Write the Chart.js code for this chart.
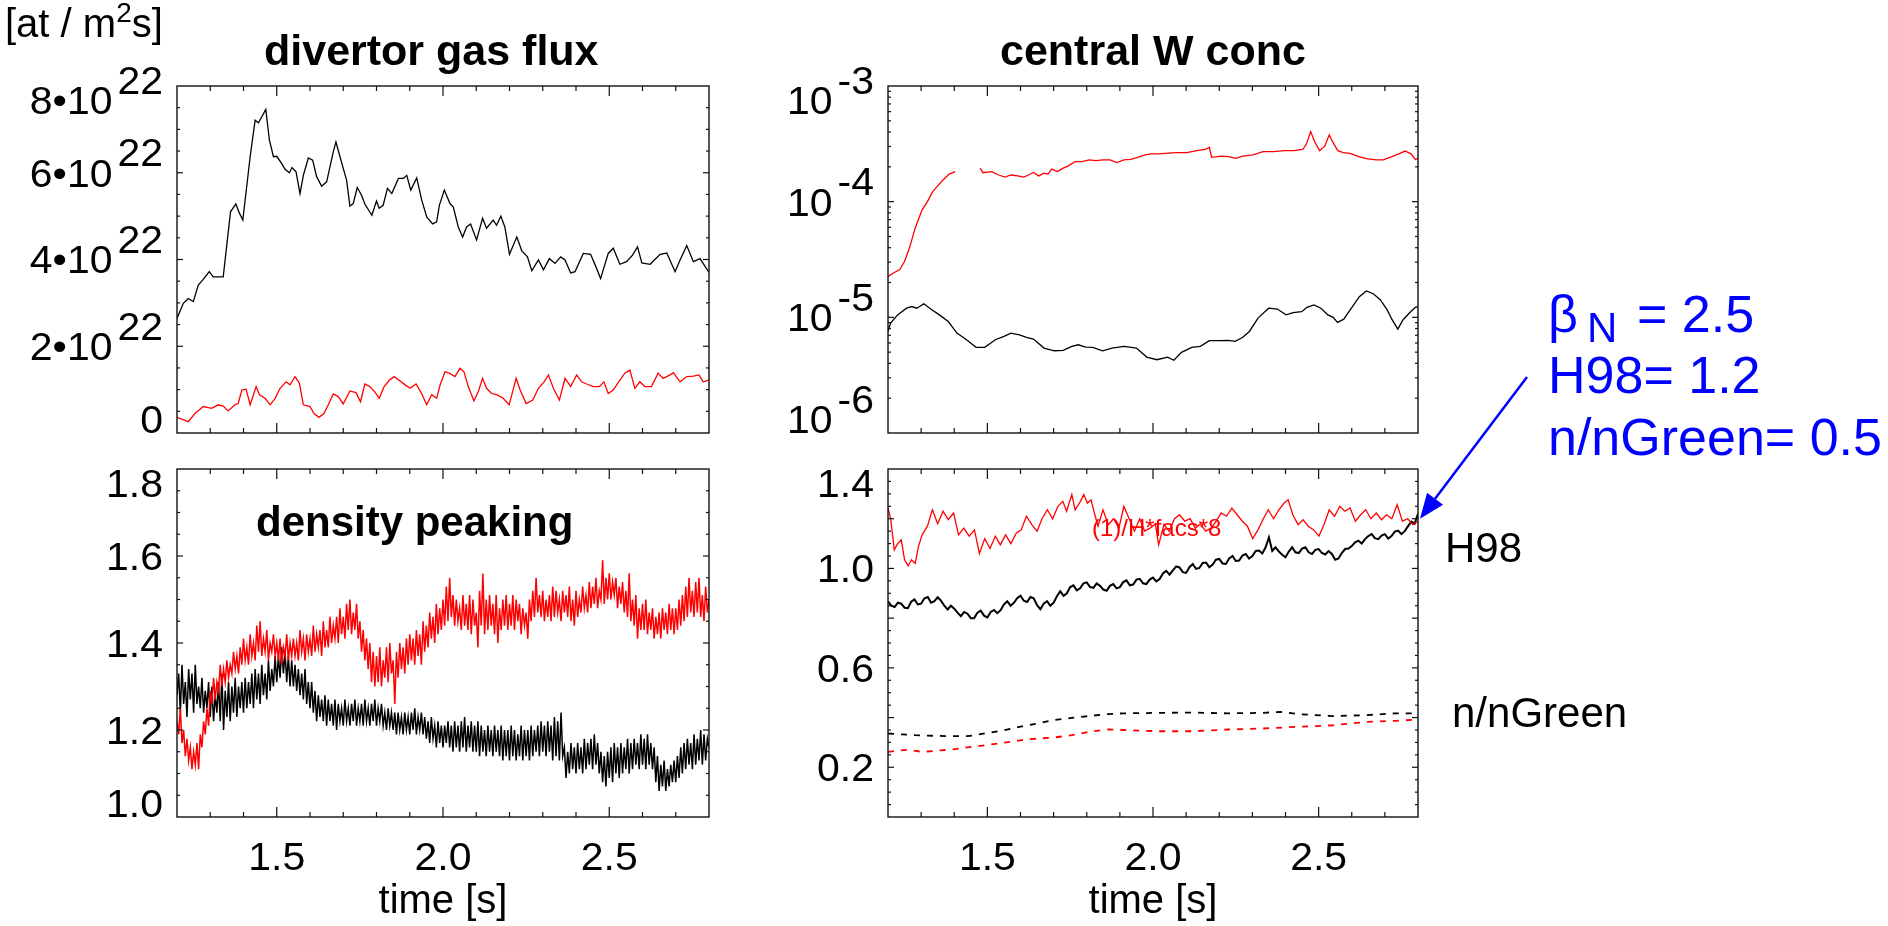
<!DOCTYPE html>
<html>
<head>
<meta charset="utf-8">
<script src="https://cdn.jsdelivr.net/npm/chart.js"></script>
<style>
html,body{margin:0;padding:0;background:#fff;width:1888px;height:926px;overflow:hidden;}
canvas,svg{position:absolute;left:0;top:0;}
</style>
</head>
<body>
<canvas id="cTL" width="1888" height="926"></canvas>
<canvas id="cTR" width="1888" height="926"></canvas>
<canvas id="cBL" width="1888" height="926"></canvas>
<canvas id="cBR" width="1888" height="926"></canvas>
<svg width="1888" height="926" font-family="'Liberation Sans', Arial, Helvetica, sans-serif">
  <text x="5" y="37" font-size="40">[at / m<tspan dy="-15" font-size="28">2</tspan><tspan dy="15" font-size="40">s]</tspan></text>
  <text x="264" y="65" font-size="43" font-weight="bold">divertor gas flux</text>
  <text x="1000" y="65" font-size="43" font-weight="bold">central W conc</text>
  <text x="256" y="536" font-size="42" font-weight="bold">density peaking</text>
  <text x="443" y="913" font-size="40" text-anchor="middle">time [s]</text>
  <text x="1153" y="913" font-size="40" text-anchor="middle">time [s]</text>
  <text x="1445" y="562" font-size="42">H98</text>
  <text x="1452" y="727" font-size="42">n/nGreen</text>
  <text x="1092" y="536" font-size="24" fill="#ff0000">(1)/H*facs*8</text>
  <g fill="#0000ff">
    <text x="1548" y="332" font-size="52">β</text>
    <text x="1587" y="342" font-size="42">N</text>
    <text x="1637" y="332" font-size="52">= 2.5</text>
    <text x="1548" y="393" font-size="52">H98= 1.2</text>
    <text x="1548" y="455" font-size="52">n/nGreen= 0.5</text>
  </g>
</svg>
<script>
// ---------------- data ----------------
// time axis ticks
const timeMajor = [1.5, 2.0, 2.5];
const timeMinor = [1.3, 1.4, 1.6, 1.7, 1.8, 1.9, 2.1, 2.2, 2.3, 2.4, 2.6, 2.7];
const timeLabels = ['1.5', '2.0', '2.5'];

// divertor gas flux [1e22 at / m^2 s]  -> [time, value]
const fluxBlack = [[1.200,2.64],[1.219,2.99],[1.234,3.10],[1.249,3.03],[1.264,3.41],[1.279,3.54],[1.297,3.72],[1.309,3.60],[1.324,3.60],[1.339,3.60],[1.361,5.10],[1.377,5.28],[1.387,5.08],[1.398,4.91],[1.420,6.37],[1.435,7.21],[1.445,7.15],[1.455,7.29],[1.467,7.46],[1.478,6.75],[1.490,6.37],[1.500,6.38],[1.515,6.21],[1.525,6.08],[1.538,6.00],[1.546,6.12],[1.558,6.02],[1.570,5.52],[1.580,5.94],[1.595,6.34],[1.608,6.29],[1.620,5.91],[1.635,5.69],[1.650,5.79],[1.670,6.48],[1.678,6.71],[1.700,6.10],[1.710,5.83],[1.720,5.23],[1.730,5.29],[1.742,5.66],[1.755,5.48],[1.765,5.28],[1.786,5.02],[1.800,5.35],[1.808,5.18],[1.820,5.25],[1.833,5.64],[1.846,5.52],[1.866,5.87],[1.881,5.87],[1.891,5.94],[1.903,5.60],[1.921,5.88],[1.936,5.37],[1.951,4.98],[1.969,4.82],[1.981,4.87],[1.989,5.25],[2.004,5.60],[2.021,5.29],[2.031,5.21],[2.046,4.75],[2.059,4.52],[2.071,4.75],[2.083,4.82],[2.101,4.45],[2.119,4.95],[2.131,4.72],[2.151,4.91],[2.161,4.79],[2.174,5.00],[2.186,4.75],[2.200,4.12],[2.222,4.52],[2.237,4.20],[2.254,4.06],[2.267,3.74],[2.287,3.99],[2.302,3.76],[2.320,4.02],[2.337,3.91],[2.354,4.06],[2.367,3.99],[2.384,3.69],[2.397,3.72],[2.422,4.14],[2.444,4.12],[2.460,3.83],[2.474,3.56],[2.497,4.14],[2.512,4.26],[2.532,3.89],[2.552,3.95],[2.570,4.10],[2.585,4.29],[2.598,3.92],[2.623,3.89],[2.653,4.12],[2.673,4.15],[2.698,3.72],[2.713,3.99],[2.733,4.32],[2.753,3.95],[2.773,4.02],[2.800,3.70]];
const fluxRed = [[1.200,0.36],[1.234,0.26],[1.254,0.45],[1.279,0.61],[1.304,0.57],[1.324,0.65],[1.339,0.62],[1.354,0.51],[1.374,0.65],[1.384,0.68],[1.395,0.99],[1.408,1.01],[1.420,0.65],[1.438,1.07],[1.448,0.88],[1.465,0.80],[1.480,0.65],[1.495,0.80],[1.510,1.03],[1.528,1.18],[1.540,1.11],[1.555,1.30],[1.568,1.15],[1.580,0.65],[1.600,0.61],[1.612,0.45],[1.627,0.36],[1.642,0.45],[1.655,0.65],[1.670,0.90],[1.685,0.84],[1.700,0.67],[1.720,0.97],[1.738,0.93],[1.752,0.72],[1.765,1.13],[1.780,1.07],[1.795,0.95],[1.808,0.80],[1.823,1.07],[1.839,1.22],[1.853,1.30],[1.871,1.20],[1.886,1.11],[1.901,1.03],[1.919,1.13],[1.933,0.95],[1.951,0.65],[1.966,0.88],[1.981,0.80],[1.991,1.10],[2.006,1.41],[2.019,1.38],[2.036,1.30],[2.051,1.49],[2.063,1.41],[2.076,1.07],[2.093,0.74],[2.106,0.95],[2.119,1.26],[2.131,1.03],[2.146,0.91],[2.163,0.88],[2.181,0.80],[2.199,0.65],[2.220,1.26],[2.232,0.99],[2.250,0.68],[2.270,0.76],[2.287,1.03],[2.304,1.18],[2.317,1.34],[2.332,1.03],[2.350,0.76],[2.367,1.26],[2.384,1.07],[2.402,1.34],[2.417,1.18],[2.432,1.13],[2.452,1.07],[2.470,1.07],[2.484,1.18],[2.497,0.91],[2.512,0.99],[2.532,1.22],[2.547,1.38],[2.562,1.45],[2.577,1.03],[2.592,1.18],[2.607,1.07],[2.627,1.07],[2.647,1.38],[2.662,1.26],[2.683,1.34],[2.693,1.39],[2.713,1.18],[2.733,1.30],[2.753,1.31],[2.770,1.34],[2.782,1.18],[2.800,1.22]];
const fluxMajor = [2, 4, 6];
const fluxMinor = [0.5, 1, 1.5, 2.5, 3, 3.5, 4.5, 5, 5.5, 6.5, 7, 7.5];
const fluxLabels = [{v:0,b:'0'},{v:2,b:'2•10',e:'22'},{v:4,b:'4•10',e:'22'},{v:6,b:'6•10',e:'22'},{v:8,b:'8•10',e:'22'}];

// central W concentration -> [time, value]
const wRed = [[1.200,2.25e-5],[1.219,2.44e-5],[1.235,2.58e-5],[1.250,3.04e-5],[1.266,4.09e-5],[1.282,5.90e-5],[1.303,8.49e-5],[1.319,1.00e-4],[1.335,1.22e-4],[1.350,1.37e-4],[1.366,1.54e-4],[1.385,1.73e-4],[1.403,1.82e-4],[1.440,null],[1.478,1.95e-4],[1.487,1.78e-4],[1.513,1.82e-4],[1.534,1.70e-4],[1.553,1.63e-4],[1.571,1.70e-4],[1.592,1.67e-4],[1.610,1.63e-4],[1.624,1.70e-4],[1.639,1.79e-4],[1.655,1.67e-4],[1.671,1.76e-4],[1.683,1.73e-4],[1.694,1.91e-4],[1.711,1.82e-4],[1.729,1.95e-4],[1.744,2.04e-4],[1.765,2.22e-4],[1.786,2.22e-4],[1.807,2.30e-4],[1.828,2.26e-4],[1.849,2.30e-4],[1.870,2.30e-4],[1.891,2.18e-4],[1.912,2.30e-4],[1.933,2.32e-4],[1.954,2.42e-4],[1.975,2.54e-4],[1.996,2.59e-4],[2.017,2.59e-4],[2.038,2.62e-4],[2.070,2.65e-4],[2.102,2.65e-4],[2.133,2.76e-4],[2.160,2.84e-4],[2.170,2.95e-4],[2.177,2.42e-4],[2.207,2.48e-4],[2.228,2.45e-4],[2.251,2.37e-4],[2.270,2.48e-4],[2.302,2.54e-4],[2.332,2.71e-4],[2.364,2.71e-4],[2.396,2.76e-4],[2.427,2.76e-4],[2.453,2.84e-4],[2.464,3.20e-4],[2.476,4.04e-4],[2.488,3.30e-4],[2.503,2.76e-4],[2.519,3.03e-4],[2.532,3.78e-4],[2.542,3.30e-4],[2.558,2.76e-4],[2.574,2.65e-4],[2.595,2.62e-4],[2.621,2.45e-4],[2.648,2.34e-4],[2.674,2.30e-4],[2.695,2.30e-4],[2.721,2.45e-4],[2.742,2.59e-4],[2.761,2.74e-4],[2.779,2.59e-4],[2.792,2.32e-4],[2.800,2.37e-4]];
const wBlack = [[1.200,7.55e-6],[1.208,8.91e-6],[1.229,1.05e-5],[1.256,1.20e-5],[1.272,1.24e-5],[1.287,1.20e-5],[1.308,1.31e-5],[1.329,1.18e-5],[1.355,1.05e-5],[1.382,9.20e-6],[1.408,7.31e-6],[1.434,6.49e-6],[1.466,5.50e-6],[1.492,5.50e-6],[1.524,6.40e-6],[1.550,6.84e-6],[1.571,7.31e-6],[1.597,7.06e-6],[1.618,6.70e-6],[1.639,6.49e-6],[1.671,5.42e-6],[1.702,5.14e-6],[1.729,5.18e-6],[1.755,5.61e-6],[1.774,5.79e-6],[1.797,5.53e-6],[1.818,5.50e-6],[1.848,5.14e-6],[1.876,5.42e-6],[1.913,5.61e-6],[1.950,5.42e-6],[1.981,4.53e-6],[2.012,4.30e-6],[2.044,4.53e-6],[2.063,4.25e-6],[2.086,4.98e-6],[2.117,5.50e-6],[2.143,5.61e-6],[2.170,6.28e-6],[2.201,6.28e-6],[2.227,6.32e-6],[2.248,6.19e-6],[2.270,6.70e-6],[2.291,7.55e-6],[2.317,9.84e-6],[2.349,1.20e-5],[2.375,1.18e-5],[2.402,1.05e-5],[2.423,1.10e-5],[2.449,1.12e-5],[2.465,1.22e-5],[2.486,1.28e-5],[2.507,1.20e-5],[2.528,1.05e-5],[2.544,1.00e-5],[2.557,9.04e-6],[2.576,9.64e-6],[2.602,1.24e-5],[2.623,1.51e-5],[2.644,1.69e-5],[2.665,1.60e-5],[2.686,1.42e-5],[2.707,1.16e-5],[2.721,9.64e-6],[2.739,7.91e-6],[2.755,9.53e-6],[2.774,1.09e-5],[2.792,1.22e-5],[2.800,1.24e-5]];
const wMajor = [1e-5, 1e-4];
const wMinor = [2e-6,3e-6,4e-6,5e-6,6e-6,7e-6,8e-6,9e-6,2e-5,3e-5,4e-5,5e-5,6e-5,7e-5,8e-5,9e-5,2e-4,3e-4,4e-4,5e-4,6e-4,7e-4,8e-4,9e-4];
const wLabels = [{v:1e-6,b:'10',e:'-6'},{v:1e-5,b:'10',e:'-5'},{v:1e-4,b:'10',e:'-4'},{v:1e-3,b:'10',e:'-3'}];

// density peaking: sample times (5 ms) and values
const t005 = [
1.200,1.205,1.210,1.215,1.220,1.225,1.230,1.235,1.240,1.245,
1.250,1.255,1.260,1.265,1.270,1.275,1.280,1.285,1.290,1.295,
1.300,1.305,1.310,1.315,1.320,1.325,1.330,1.335,1.340,1.345,
1.350,1.355,1.360,1.365,1.370,1.375,1.380,1.385,1.390,1.395,
1.400,1.405,1.410,1.415,1.420,1.425,1.430,1.435,1.440,1.445,
1.450,1.455,1.460,1.465,1.470,1.475,1.480,1.485,1.490,1.495,
1.500,1.505,1.510,1.515,1.520,1.525,1.530,1.535,1.540,1.545,
1.550,1.555,1.560,1.565,1.570,1.575,1.580,1.585,1.590,1.595,
1.600,1.605,1.610,1.615,1.620,1.625,1.630,1.635,1.640,1.645,
1.650,1.655,1.660,1.665,1.670,1.675,1.680,1.685,1.690,1.695,
1.700,1.705,1.710,1.715,1.720,1.725,1.730,1.735,1.740,1.745,
1.750,1.755,1.760,1.765,1.770,1.775,1.780,1.785,1.790,1.795,
1.800,1.805,1.810,1.815,1.820,1.825,1.830,1.835,1.840,1.845,
1.850,1.855,1.860,1.865,1.870,1.875,1.880,1.885,1.890,1.895,
1.900,1.905,1.910,1.915,1.920,1.925,1.930,1.935,1.940,1.945,
1.950,1.955,1.960,1.965,1.970,1.975,1.980,1.985,1.990,1.995,
2.000,2.005,2.010,2.015,2.020,2.025,2.030,2.035,2.040,2.045,
2.050,2.055,2.060,2.065,2.070,2.075,2.080,2.085,2.090,2.095,
2.100,2.105,2.110,2.115,2.120,2.125,2.130,2.135,2.140,2.145,
2.150,2.155,2.160,2.165,2.170,2.175,2.180,2.185,2.190,2.195,
2.200,2.205,2.210,2.215,2.220,2.225,2.230,2.235,2.240,2.245,
2.250,2.255,2.260,2.265,2.270,2.275,2.280,2.285,2.290,2.295,
2.300,2.305,2.310,2.315,2.320,2.325,2.330,2.335,2.340,2.345,
2.350,2.355,2.360,2.365,2.370,2.375,2.380,2.385,2.390,2.395,
2.400,2.405,2.410,2.415,2.420,2.425,2.430,2.435,2.440,2.445,
2.450,2.455,2.460,2.465,2.470,2.475,2.480,2.485,2.490,2.495,
2.500,2.505,2.510,2.515,2.520,2.525,2.530,2.535,2.540,2.545,
2.550,2.555,2.560,2.565,2.570,2.575,2.580,2.585,2.590,2.595,
2.600,2.605,2.610,2.615,2.620,2.625,2.630,2.635,2.640,2.645,
2.650,2.655,2.660,2.665,2.670,2.675,2.680,2.685,2.690,2.695,
2.700,2.705,2.710,2.715,2.720,2.725,2.730,2.735,2.740,2.745,
2.750,2.755,2.760,2.765,2.770,2.775,2.780,2.785,2.790,2.795,
2.800];
const densRed = [
1.22,1.19,1.25,1.17,1.20,1.14,1.18,1.13,1.16,1.11,
1.15,1.12,1.17,1.11,1.19,1.16,1.22,1.19,1.25,1.21,
1.29,1.26,1.32,1.27,1.31,1.29,1.35,1.30,1.34,1.31,
1.36,1.32,1.35,1.33,1.38,1.34,1.37,1.33,1.39,1.35,
1.41,1.36,1.39,1.35,1.42,1.37,1.40,1.36,1.44,1.38,
1.45,1.37,1.41,1.38,1.43,1.36,1.40,1.38,1.42,1.37,
1.40,1.36,1.41,1.35,1.39,1.37,1.42,1.36,1.40,1.37,
1.41,1.37,1.40,1.36,1.43,1.38,1.41,1.36,1.42,1.38,
1.41,1.37,1.44,1.38,1.42,1.39,1.43,1.37,1.45,1.39,
1.43,1.39,1.46,1.40,1.44,1.41,1.46,1.40,1.48,1.42,
1.46,1.41,1.49,1.43,1.50,1.42,1.47,1.43,1.49,1.41,
1.45,1.38,1.43,1.36,1.41,1.34,1.40,1.31,1.38,1.30,
1.37,1.31,1.39,1.30,1.36,1.32,1.39,1.31,1.40,1.33,
1.36,1.26,1.38,1.32,1.40,1.34,1.39,1.33,1.41,1.35,
1.42,1.36,1.41,1.35,1.43,1.37,1.42,1.35,1.45,1.38,
1.44,1.39,1.47,1.41,1.46,1.40,1.49,1.42,1.48,1.43,
1.50,1.44,1.53,1.45,1.55,1.46,1.51,1.44,1.50,1.45,
1.48,1.43,1.51,1.44,1.49,1.43,1.51,1.42,1.50,1.44,
1.47,1.39,1.52,1.44,1.56,1.42,1.50,1.43,1.51,1.44,
1.49,1.42,1.51,1.40,1.48,1.43,1.50,1.44,1.51,1.43,
1.49,1.44,1.51,1.43,1.50,1.45,1.49,1.42,1.48,1.44,
1.47,1.41,1.50,1.45,1.52,1.46,1.55,1.47,1.51,1.46,
1.52,1.45,1.50,1.46,1.51,1.45,1.53,1.46,1.52,1.47,
1.50,1.45,1.52,1.47,1.51,1.46,1.53,1.45,1.50,1.44,
1.52,1.46,1.50,1.47,1.53,1.48,1.51,1.47,1.54,1.48,
1.53,1.49,1.55,1.48,1.52,1.50,1.59,1.49,1.55,1.50,
1.56,1.50,1.54,1.51,1.55,1.48,1.53,1.49,1.54,1.47,
1.52,1.46,1.56,1.45,1.50,1.44,1.51,1.41,1.48,1.43,
1.49,1.43,1.50,1.42,1.47,1.43,1.48,1.41,1.46,1.42,
1.47,1.41,1.48,1.43,1.47,1.42,1.49,1.43,1.48,1.42,
1.48,1.43,1.50,1.44,1.51,1.45,1.53,1.46,1.55,1.47,
1.52,1.46,1.54,1.47,1.55,1.46,1.51,1.45,1.53,1.47,
1.50];
const densBlack = [
1.28,1.33,1.24,1.35,1.26,1.31,1.23,1.34,1.27,1.33,
1.24,1.35,1.26,1.30,1.25,1.32,1.24,1.29,1.25,1.31,
1.23,1.30,1.22,1.28,1.24,1.31,1.22,1.33,1.20,1.29,
1.23,1.31,1.22,1.30,1.24,1.32,1.23,1.30,1.25,1.31,
1.24,1.32,1.25,1.31,1.26,1.33,1.25,1.34,1.27,1.33,
1.26,1.35,1.28,1.33,1.27,1.36,1.29,1.34,1.30,1.37,
1.31,1.37,1.32,1.39,1.33,1.38,1.31,1.37,1.30,1.36,
1.30,1.35,1.29,1.34,1.28,1.33,1.27,1.34,1.26,1.31,
1.25,1.31,1.24,1.29,1.22,1.28,1.23,1.27,1.22,1.28,
1.21,1.27,1.22,1.26,1.21,1.27,1.20,1.26,1.22,1.25,
1.21,1.27,1.22,1.25,1.21,1.26,1.22,1.27,1.21,1.25,
1.22,1.26,1.21,1.27,1.22,1.25,1.21,1.26,1.22,1.27,
1.21,1.25,1.22,1.26,1.21,1.24,1.20,1.25,1.21,1.24,
1.20,1.24,1.19,1.24,1.20,1.23,1.19,1.24,1.20,1.23,
1.19,1.24,1.20,1.25,1.19,1.23,1.20,1.24,1.19,1.23,
1.18,1.22,1.17,1.23,1.18,1.21,1.16,1.22,1.17,1.21,
1.16,1.21,1.17,1.22,1.16,1.21,1.15,1.22,1.16,1.21,
1.15,1.22,1.16,1.23,1.15,1.21,1.16,1.22,1.15,1.21,
1.15,1.22,1.14,1.21,1.15,1.20,1.14,1.21,1.15,1.20,
1.14,1.21,1.15,1.20,1.14,1.21,1.13,1.20,1.14,1.20,
1.13,1.21,1.14,1.20,1.13,1.19,1.14,1.21,1.13,1.20,
1.14,1.20,1.13,1.21,1.14,1.20,1.15,1.21,1.14,1.22,
1.15,1.21,1.14,1.22,1.15,1.21,1.13,1.23,1.14,1.22,
1.13,1.24,1.14,1.16,1.09,1.15,1.10,1.17,1.11,1.16,
1.10,1.17,1.11,1.16,1.10,1.18,1.11,1.17,1.12,1.18,
1.11,1.19,1.12,1.17,1.10,1.15,1.08,1.14,1.07,1.15,
1.09,1.16,1.08,1.17,1.10,1.16,1.09,1.17,1.10,1.16,
1.11,1.18,1.10,1.17,1.11,1.18,1.12,1.17,1.11,1.19,
1.12,1.18,1.11,1.19,1.12,1.17,1.11,1.16,1.08,1.14,
1.06,1.12,1.07,1.13,1.06,1.11,1.07,1.12,1.08,1.13,
1.08,1.14,1.09,1.16,1.10,1.17,1.11,1.18,1.12,1.17,
1.11,1.19,1.12,1.18,1.13,1.20,1.12,1.19,1.13,1.18,
1.16];
const densMajor = [1.2, 1.4, 1.6];
const densMinor = [1.05,1.1,1.15,1.25,1.3,1.35,1.45,1.5,1.55,1.65,1.7,1.75];
const densLabels = [{v:1.0,b:'1.0'},{v:1.2,b:'1.2'},{v:1.4,b:'1.4'},{v:1.6,b:'1.6'},{v:1.8,b:'1.8'}];

// H98 and n/nGreen
const t01 = [
1.20,1.21,1.22,1.23,1.24,1.25,1.26,1.27,1.28,1.29,
1.30,1.31,1.32,1.33,1.34,1.35,1.36,1.37,1.38,1.39,
1.40,1.41,1.42,1.43,1.44,1.45,1.46,1.47,1.48,1.49,
1.50,1.51,1.52,1.53,1.54,1.55,1.56,1.57,1.58,1.59,
1.60,1.61,1.62,1.63,1.64,1.65,1.66,1.67,1.68,1.69,
1.70,1.71,1.72,1.73,1.74,1.75,1.76,1.77,1.78,1.79,
1.80,1.81,1.82,1.83,1.84,1.85,1.86,1.87,1.88,1.89,
1.90,1.91,1.92,1.93,1.94,1.95,1.96,1.97,1.98,1.99,
2.00,2.01,2.02,2.03,2.04,2.05,2.06,2.07,2.08,2.09,
2.10,2.11,2.12,2.13,2.14,2.15,2.16,2.17,2.18,2.19,
2.20,2.21,2.22,2.23,2.24,2.25,2.26,2.27,2.28,2.29,
2.30,2.31,2.32,2.33,2.34,2.35,2.36,2.37,2.38,2.39,
2.40,2.41,2.42,2.43,2.44,2.45,2.46,2.47,2.48,2.49,
2.50,2.51,2.52,2.53,2.54,2.55,2.56,2.57,2.58,2.59,
2.60,2.61,2.62,2.63,2.64,2.65,2.66,2.67,2.68,2.69,
2.70,2.71,2.72,2.73,2.74,2.75,2.76,2.77,2.78,2.79,
2.80];
const h98Black = [
0.867,0.850,0.845,0.862,0.858,0.842,0.840,0.866,0.875,0.855,
0.858,0.880,0.885,0.862,0.868,0.884,0.870,0.850,0.835,0.850,
0.838,0.822,0.808,0.825,0.818,0.800,0.800,0.822,0.830,0.810,
0.803,0.825,0.833,0.820,0.832,0.855,0.868,0.850,0.862,0.880,
0.890,0.870,0.865,0.885,0.880,0.852,0.836,0.858,0.868,0.850,
0.862,0.888,0.908,0.890,0.900,0.925,0.932,0.912,0.920,0.940,
0.944,0.925,0.922,0.940,0.930,0.915,0.910,0.930,0.937,0.920,
0.925,0.945,0.952,0.932,0.935,0.955,0.958,0.940,0.937,0.955,
0.963,0.948,0.957,0.980,0.990,0.975,0.992,1.008,1.004,0.985,
0.982,1.005,1.018,0.998,1.002,1.022,1.024,1.005,1.016,1.035,
1.038,1.020,1.018,1.040,1.050,1.030,1.032,1.052,1.058,1.040,
1.050,1.070,1.072,1.060,1.085,1.125,1.070,1.085,1.068,1.055,
1.045,1.068,1.085,1.065,1.062,1.080,1.085,1.065,1.058,1.075,
1.078,1.062,1.056,1.070,1.058,1.035,1.040,1.062,1.078,1.080,
1.090,1.105,1.112,1.100,1.118,1.130,1.138,1.122,1.118,1.132,
1.138,1.120,1.130,1.148,1.152,1.138,1.150,1.170,1.188,1.180,
1.220];
const h98Red = [[1.200,1.243],[1.208,1.20],[1.219,1.075],[1.229,1.10],[1.240,1.115],[1.250,1.035],[1.261,1.01],[1.271,1.035],[1.282,1.02],[1.292,1.088],[1.303,1.135],[1.319,1.17],[1.334,1.236],[1.350,1.18],[1.366,1.23],[1.382,1.196],[1.398,1.223],[1.413,1.135],[1.429,1.162],[1.445,1.13],[1.461,1.155],[1.476,1.06],[1.492,1.12],[1.508,1.08],[1.524,1.13],[1.539,1.095],[1.555,1.135],[1.571,1.10],[1.587,1.142],[1.602,1.155],[1.618,1.21],[1.634,1.176],[1.650,1.15],[1.665,1.20],[1.681,1.236],[1.697,1.20],[1.713,1.25],[1.728,1.27],[1.739,1.23],[1.755,1.297],[1.765,1.236],[1.781,1.27],[1.791,1.297],[1.802,1.263],[1.813,1.276],[1.823,1.223],[1.834,1.17],[1.849,1.236],[1.865,1.176],[1.881,1.20],[1.897,1.162],[1.912,1.25],[1.928,1.20],[1.944,1.15],[1.960,1.20],[1.975,1.15],[1.991,1.162],[2.007,1.18],[2.017,1.095],[2.033,1.176],[2.049,1.15],[2.065,1.20],[2.080,1.216],[2.096,1.19],[2.112,1.20],[2.128,1.162],[2.143,1.18],[2.159,1.15],[2.175,1.162],[2.191,1.19],[2.206,1.223],[2.222,1.21],[2.238,1.243],[2.254,1.216],[2.270,1.19],[2.285,1.17],[2.301,1.12],[2.317,1.155],[2.333,1.20],[2.348,1.236],[2.364,1.20],[2.380,1.236],[2.396,1.263],[2.408,1.276],[2.422,1.216],[2.438,1.176],[2.453,1.196],[2.469,1.17],[2.485,1.155],[2.501,1.13],[2.516,1.176],[2.532,1.236],[2.548,1.21],[2.564,1.25],[2.579,1.23],[2.595,1.243],[2.611,1.19],[2.627,1.216],[2.642,1.236],[2.658,1.20],[2.674,1.223],[2.690,1.196],[2.705,1.216],[2.721,1.20],[2.737,1.256],[2.753,1.19],[2.769,1.20],[2.784,1.176],[2.800,1.19]];
const nGwBlack = [[1.200,0.336],[1.282,0.329],[1.387,0.325],[1.440,0.325],[1.492,0.336],[1.545,0.347],[1.597,0.363],[1.650,0.376],[1.702,0.390],[1.755,0.399],[1.807,0.406],[1.860,0.414],[1.912,0.417],[2.017,0.419],[2.122,0.420],[2.227,0.417],[2.333,0.419],[2.385,0.423],[2.438,0.414],[2.543,0.406],[2.648,0.410],[2.732,0.417],[2.800,0.417]];
const nGwRed = [[1.200,0.262],[1.261,0.271],[1.303,0.262],[1.387,0.271],[1.471,0.285],[1.545,0.298],[1.618,0.312],[1.702,0.320],[1.755,0.329],[1.807,0.343],[1.860,0.352],[1.912,0.350],[2.017,0.345],[2.122,0.345],[2.227,0.352],[2.333,0.356],[2.438,0.363],[2.543,0.369],[2.648,0.383],[2.732,0.387],[2.800,0.392]];
const perfMajor = [0.2, 0.4, 0.6, 0.8, 1.0, 1.2];
const perfMinor = [0.05,0.1,0.15,0.25,0.3,0.35,0.45,0.5,0.55,0.65,0.7,0.75,0.85,0.9,0.95,1.05,1.1,1.15,1.25,1.3,1.35];
const perfLabels = [{v:0.2,b:'0.2'},{v:0.6,b:'0.6'},{v:1.0,b:'1.0'},{v:1.4,b:'1.4'}];
const arrowTarget = {x: 2.8, y: 1.2};

// ---------------- drawing ----------------
const FONT = '"Liberation Sans", Arial, Helvetica, sans-serif';
const LABEL_STRETCH = 1.05;

const idlFrame = {
  id: 'idlFrame',
  afterDraw(chart, args, o) {
    const ctx = chart.ctx, a = chart.chartArea, xs = chart.scales.x, ys = chart.scales.y;
    ctx.save();
    const seg = (x1, y1, x2, y2) => { ctx.beginPath(); ctx.moveTo(x1, y1); ctx.lineTo(x2, y2); ctx.stroke(); };
    ctx.strokeStyle = '#111';
    ctx.lineWidth = 1.2;
    const xt = (v, len) => { const p = xs.getPixelForValue(v); seg(p, a.bottom, p, a.bottom - len); seg(p, a.top, p, a.top + len); };
    o.xMajor.forEach(v => xt(v, 10));
    o.xMinor.forEach(v => xt(v, 5));
    const yt = (v, len) => { const p = ys.getPixelForValue(v); seg(a.left, p, a.left + len, p); seg(a.right, p, a.right - len, p); };
    o.yMajor.forEach(v => yt(v, 6));
    o.yMinor.forEach(v => yt(v, 3));
    ctx.lineWidth = 1.4;
    ctx.strokeRect(a.left, a.top, a.right - a.left, a.bottom - a.top);

    ctx.fillStyle = '#000';
    ctx.textBaseline = 'alphabetic';
    const fs = 39, cap = fs * 0.716;
    ctx.font = fs + 'px ' + FONT;
    const put = (s, x, y, align) => {
      ctx.save();
      ctx.translate(x, y);
      ctx.scale(LABEL_STRETCH, 1);
      ctx.textAlign = align;
      ctx.fillText(s, 0, 0);
      ctx.restore();
    };
    const right = a.left - 14;
    o.yLabels.forEach(l => {
      const p = ys.getPixelForValue(l.v);
      let base;
      if (Math.abs(p - a.top) < 1) base = a.top + cap;
      else if (Math.abs(p - a.bottom) < 1) base = a.bottom;
      else base = p + cap / 2;
      const wb = ctx.measureText(l.b).width * LABEL_STRETCH;
      const we = l.e ? ctx.measureText(l.e).width * LABEL_STRETCH + 5 : 0;
      put(l.b, right - we - wb, base, 'left');
      if (l.e) put(l.e, right - we + 5, base - 0.52 * fs, 'left');
    });
    if (o.xLabels) {
      o.xLabels.forEach((s, i) => put(s, xs.getPixelForValue(o.xMajor[i]), a.bottom + 53, 'center'));
    }
    ctx.restore();
  }
};

const arrowPlugin = {
  id: 'arrow',
  afterDraw(chart, args, o) {
    if (!o || !o.target) return;
    const ctx = chart.ctx;
    const tx = chart.scales.x.getPixelForValue(o.target.x) + 2;
    const ty = chart.scales.y.getPixelForValue(o.target.y);
    const [fx, fy] = o.from;
    const dx = tx - fx, dy = ty - fy, L = Math.hypot(dx, dy);
    const ux = dx / L, uy = dy / L, px = -uy, py = ux;
    const hl = 25, hw = 10;
    const bx = tx - ux * hl, by = ty - uy * hl;
    ctx.save();
    ctx.strokeStyle = '#0000ff'; ctx.fillStyle = '#0000ff'; ctx.lineWidth = 2.5;
    ctx.beginPath(); ctx.moveTo(fx, fy); ctx.lineTo(bx, by); ctx.stroke();
    ctx.beginPath(); ctx.moveTo(tx, ty); ctx.lineTo(bx + px * hw, by + py * hw); ctx.lineTo(bx - px * hw, by - py * hw); ctx.closePath(); ctx.fill();
    ctx.restore();
  }
};

function ds(pairs, color, width, dash) {
  return {
    data: pairs.map(p => ({x: p[0], y: p[1]})),
    borderColor: color, borderWidth: width, borderDash: dash || [],
    pointRadius: 0, tension: 0, fill: false, spanGaps: false
  };
}
function series(times, vals) { return times.map((t, i) => [t, vals[i]]); }

function makeChart(id, pad, datasets, yScale, frame, arrow) {
  return new Chart(document.getElementById(id), {
    type: 'line',
    data: {datasets},
    options: {
      responsive: false, animation: false, devicePixelRatio: 1, events: [],
      layout: {padding: pad},
      plugins: {legend: {display: false}, tooltip: {enabled: false}, idlFrame: frame, arrow: arrow || {}},
      scales: {
        x: {type: 'linear', min: 1.2, max: 2.8, display: false},
        y: Object.assign({display: false}, yScale)
      }
    },
    plugins: [idlFrame, arrowPlugin]
  });
}

const padTL = {left: 177, top: 86, right: 1179, bottom: 493};
const padTR = {left: 888, top: 86, right: 470, bottom: 493};
const padBL = {left: 177, top: 469, right: 1179, bottom: 109};
const padBR = {left: 888, top: 469, right: 470, bottom: 109};

makeChart('cTL', padTL,
  [ds(fluxBlack, '#000', 1.3), ds(fluxRed, '#ff0000', 1.3)],
  {type: 'linear', min: 0, max: 8},
  {xMajor: timeMajor, xMinor: timeMinor, yMajor: fluxMajor, yMinor: fluxMinor, yLabels: fluxLabels, xLabels: null});

makeChart('cTR', padTR,
  [ds(wRed, '#ff0000', 1.3), ds(wBlack, '#000', 1.3)],
  {type: 'linear' === 'x' ? 'linear' : 'logarithmic', min: 1e-6, max: 1e-3},
  {xMajor: timeMajor, xMinor: timeMinor, yMajor: wMajor, yMinor: wMinor, yLabels: wLabels, xLabels: null});

makeChart('cBL', padBL,
  [ds(series(t005, densRed), '#ff0000', 1.5), ds(series(t005, densBlack), '#000', 1.5)],
  {type: 'linear', min: 1.0, max: 1.8},
  {xMajor: timeMajor, xMinor: timeMinor, yMajor: densMajor, yMinor: densMinor, yLabels: densLabels, xLabels: timeLabels});

makeChart('cBR', padBR,
  [ds(h98Red, '#ff0000', 1.3), ds(series(t01, h98Black), '#000', 2.0),
   ds(nGwBlack, '#000', 1.8, [6, 7]), ds(nGwRed, '#ff0000', 1.8, [6, 7])],
  {type: 'linear', min: 0, max: 1.4},
  {xMajor: timeMajor, xMinor: timeMinor, yMajor: perfMajor, yMinor: perfMinor, yLabels: perfLabels, xLabels: timeLabels},
  {target: arrowTarget, from: [1527, 377]});
</script>
</body>
</html>
